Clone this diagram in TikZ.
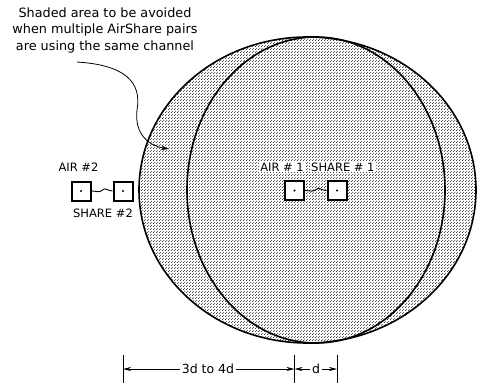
\documentclass[tikz,border=0pt]{standalone}
\usepackage{fontspec}
\setmainfont{DejaVu Sans}
\usetikzlibrary{patterns,arrows.meta}
\pgfdeclarepatternformonly{bigdots}{\pgfpointorigin}{\pgfpoint{3pt}{3pt}}{\pgfpoint{3pt}{3pt}}{%
  \pgfpathcircle{\pgfpoint{0.75pt}{0.75pt}}{.62pt}%
  \pgfpathcircle{\pgfpoint{2.25pt}{2.25pt}}{.62pt}%
  \pgfusepath{fill}}
\begin{document}
\begin{tikzpicture}[x=1pt,y=-1pt,
  rim/.style={line width=1.6pt},
  unit/.style={draw,line width=2pt,fill=white,minimum size=19pt,inner sep=0pt},
  lbl/.style={font=\fontsize{11.5}{13}\selectfont,inner sep=1pt},
  dimlbl/.style={font=\fontsize{12.5}{14}\selectfont,inner sep=2pt},
  dimarrow/.style={line width=0.7pt,-{Stealth[length=8pt,width=4pt]}},
  tick/.style={line width=0.7pt},
  wire/.style={line width=0.9pt},
  leader/.style={line width=0.8pt,-{Stealth[length=8pt,width=4.5pt]}}]
\useasboundingbox (0,0) rectangle (482,383);
% shaded union
\fill[pattern=bigdots] (307.5,190) ellipse [x radius=168.5,y radius=153]
      (316,190) ellipse [x radius=129,y radius=153];
\draw[rim] (307.5,190) ellipse [x radius=168.5,y radius=153];
\draw[rim] (316,190) ellipse [x radius=129,y radius=153];
% note
\node[font=\fontsize{12.8}{16.5}\selectfont,align=center] (note) at (105,30)
  {Shaded area to be avoided\\when multiple AirShare pairs\\are using the same channel};
\coordinate (ls) at (77,62);
\coordinate (le) at (169,149);
\draw[leader] (ls) .. controls (125,65) and (142,82) .. (137,110)
  .. controls (134,135) and (150,146) .. (le);
% pair 2
\node[unit] (air2) at (81,191) {};
\node[unit] (share2) at (123,191) {};
\fill (air2.center) circle (1.1pt);
\fill (share2.center) circle (1.1pt);
\draw[wire] (air2.east) .. controls +(5,0) and +(-3,3) .. ++(11,-1)
  .. controls +(3,-3) and +(-5,0) .. (share2.west);
\node[lbl] (lair2) at (78.5,167) {AIR \#2};
\node[lbl] (lshare2) at (103,213) {SHARE \#2};
% pair 1
\node[unit] (air1) at (294.5,190.5) {};
\node[unit] (share1) at (337,190.5) {};
\fill (air1.center) circle (1.1pt);
\fill (share1.center) circle (1.1pt);
\draw[wire] (air1.east) .. controls +(5,0) and +(-3,3) .. ++(11,-1)
  .. controls +(3,-3) and +(-5,0) .. (share1.west);
\node[lbl,fill=white,anchor=east] (lair1) at (305,167) {AIR \# 1};
\node[lbl,fill=white,anchor=west] (lshare1) at (310,167) {SHARE \# 1};
% dimensions
\coordinate (ttop) at (0,355);
\coordinate (tbot) at (0,383);
\draw[tick] (share2 |- ttop) -- (share2 |- tbot);
\draw[tick] (air1 |- ttop) -- (air1 |- tbot);
\draw[tick] (share1 |- ttop) -- (share1 |- tbot);
\node[dimlbl] (d34) at (208,369) {3d to 4d};
\node[dimlbl] (d1) at (316,369) {d};
\draw[dimarrow] (d34.west) -- (share2 |- d34);
\draw[dimarrow] (d34.east) -- (air1 |- d34);
\draw[dimarrow] (d1.west) -- (air1 |- d1);
\draw[dimarrow] (d1.east) -- (share1 |- d1);
\end{tikzpicture}
\end{document}
